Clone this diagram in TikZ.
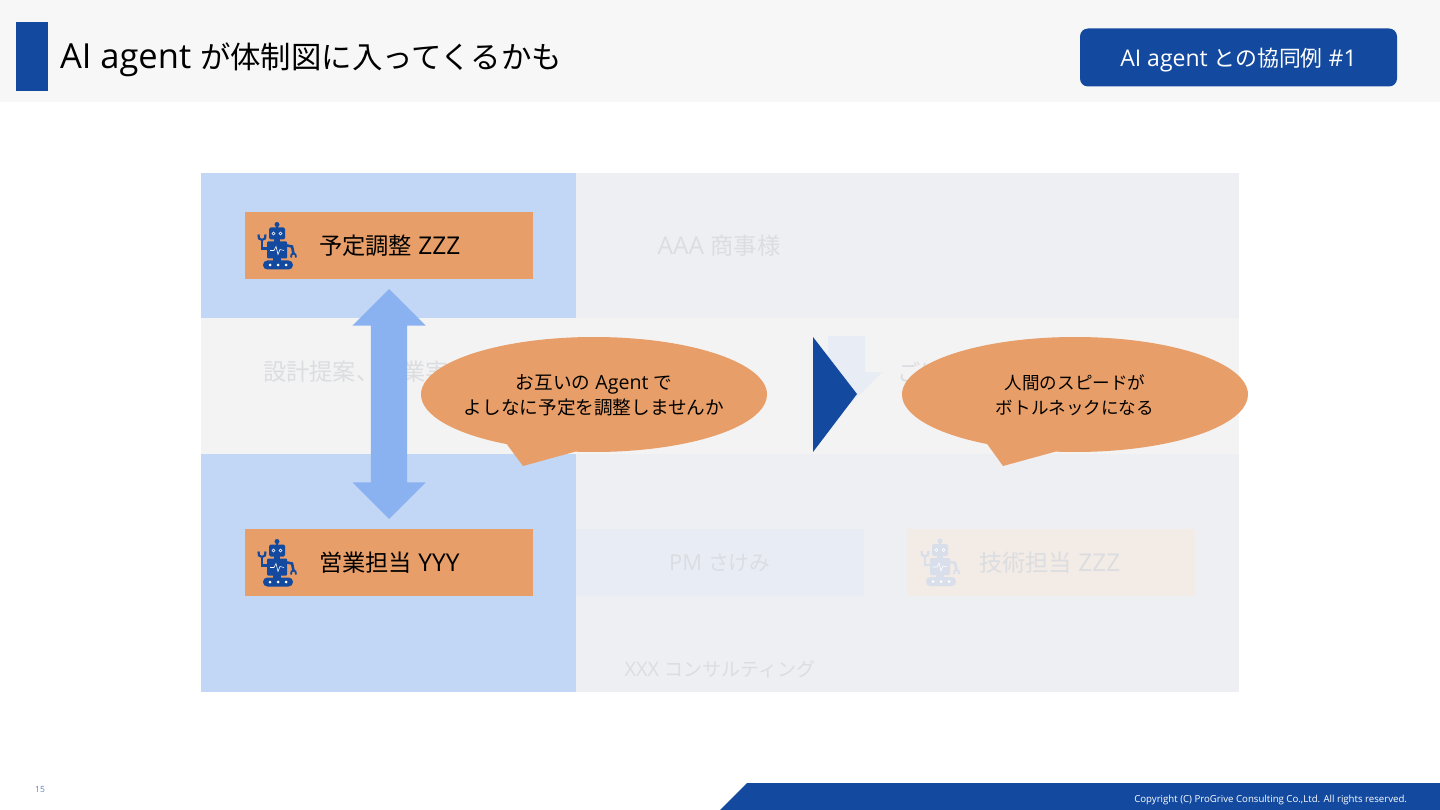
\documentclass[tikz,border=0pt]{standalone}
\usepackage{fontspec}
\setmainfont{Open Sans}
\newfontfamily\jpfont{Noto Sans CJK JP}[Scale=0.95]
\newcommand{\ja}[1]{{\jpfont #1}}
\usetikzlibrary{shapes.callouts,shapes.arrows}

\definecolor{navy}{HTML}{134A9F}
\definecolor{paleblue}{HTML}{C2D7F6}
\definecolor{midblue}{HTML}{8AB1F0}
\definecolor{orangebox}{HTML}{E89E68}
\definecolor{greyband}{HTML}{F3F3F3}
\definecolor{headgrey}{HTML}{F7F7F7}
\definecolor{fadeband}{HTML}{EDEFF3}
\definecolor{fadeblue}{HTML}{E8ECF4}
\definecolor{fadeorange}{HTML}{F3EBE5}
\definecolor{fadetext}{HTML}{DBDDE1}
\definecolor{fadeicon}{HTML}{D8DEEA}

% robot icon, origin at the centre of the picture
\tikzset{
    pics/robot/.style={code={
        \fill[#1] (-1,-21) rectangle (1,-17);
        \fill[#1] (0,-21) circle (2.5);
        \fill[#1,rounded corners=1.5] (-8,-18) rectangle (8,-6);
        \fill[#1] (-3,-7) rectangle (3,-3);
        \fill[#1,rounded corners=1] (-10,-4) rectangle (10,13);
        \draw[#1,line width=2.6] (-10,3) -- (-15,3) -- (-15,-6);
        \draw[#1,line width=2.2] (-18.5,-11) -- (-18,-7) -- (-15,-5.5) -- (-12,-7) -- (-11.5,-11);
        \draw[#1,line width=2.6] (10,0) -- (15,1) -- (16.5,8);
        \draw[#1,line width=1.8] (14,12) -- (14.5,9) -- (16.5,8) -- (18.5,9) -- (19,12);
        \fill[#1] (-4,12) rectangle (4,16);
        \fill[#1,rounded corners=4.4] (-14,15) rectangle (16,24);
        \foreach \px in {-8,0,8} {\fill[white] (\px+1,19.5) circle (1.5);}
        \draw[white,line width=0.5] (-3.5,-12) circle (1.5);
        \draw[white,line width=0.5] (3.5,-12) circle (1.5);
        \draw[white,line width=0.6] (-7,5) -- (-3,5) -- (-1,1) -- (1,9) -- (3,4) -- (7,5);
    }}
}

\begin{document}
\begin{tikzpicture}[
    x=1pt, y=-1pt,
    every node/.style={inner sep=0pt, outer sep=0pt},
    member/.style={rectangle, fill=orangebox, minimum width=288pt, minimum height=67pt},
    label/.style={anchor=west, text=black, font=\fontsize{24.5}{28}\selectfont},
    fadelabel/.style={text=fadetext, font=\fontsize{24.5}{28}\selectfont},
    bubble/.style={ellipse callout, fill=orangebox, minimum width=346pt, minimum height=115pt, callout pointer arc=24},
    saying/.style={align=center, text=black, font=\fontsize{19.6}{25}\selectfont}
]
\useasboundingbox (0,0) rectangle (1440,810);

% header
\fill[headgrey] (0,0) rectangle (1440,102);
\fill[navy] (16,22) rectangle (48,91);
\node[anchor=west, font=\fontsize{34.5}{40}\selectfont] (title) at (60,60) {AI agent {\fontsize{32}{40}\selectfont\ja{が体制図に入ってくるかも}}};
\node[rectangle, rounded corners=8pt, fill=navy, minimum width=317pt, minimum height=58pt] (tag) at (1238.5,57.5) {};
\node[text=white, font=\fontsize{23}{28}\selectfont] (tagtext) at (1238.5,60) {AI agent \ja{との協同例} \#1};

% background bands
\fill[fadeband] (576,173) rectangle (1239,318);
\fill[greyband] (201,318) rectangle (1239,454);
\fill[fadeband] (576,454) rectangle (1239,692);
\fill[paleblue] (201,173) rectangle (576,318);
\fill[paleblue] (201,454) rectangle (576,692);

% faded texts and boxes
\node[fadelabel] (client) at (719,246) {AAA \ja{商事様}};
\node[fadelabel, anchor=west] (proposal) at (263,372) {\ja{設計提案、営業実}};
\node[fadelabel, anchor=west] (note) at (897,372) {\ja{ごけ}};
\fill[fadeblue] (828,336) -- (865,336) -- (865,372) -- (882,372) -- (846,408) -- (828,390) -- cycle;
\node[member, fill=fadeblue] (pmbox) at (720,562.5) {};
\node[fadelabel, font=\fontsize{22}{28}\selectfont] (pm) at (720,563) {PM \ja{さけみ}};
\node[member, fill=fadeorange] (techbox) at (1051,562.5) {};
\node[fadelabel, anchor=west] (tech) at (979,563) {\ja{技術担当} ZZZ};
\pic at (940,562) {robot=fadeicon};
\node[fadelabel, font=\fontsize{20}{24}\selectfont] (xxx) at (720,669) {XXX \ja{コンサルティング}};

% agents
\node[member] (yotei) at (389,245.5) {};
\node[label] (yoteitext) at (319,246) {\ja{予定調整} ZZZ};
\node[member] (eigyo) at (389,562.5) {};
\node[label] (eigyotext) at (319,563) {\ja{営業担当} YYY};
\pic at (277,245.5) {robot=navy};
\pic at (277,562.5) {robot=navy};

% overlay
\node[double arrow, fill=midblue, rotate=90, minimum height=230pt, minimum width=73pt, inner ysep=18pt, double arrow head extend=18.5pt, double arrow head indent=0pt] (link) at (389,404) {};
\fill[navy] (813,337) -- (857,394) -- (813,452) -- cycle;
\node[bubble, callout absolute pointer={(523,466)}] (left) at (594,394.5) {};
\node[saying] (lefttext) at (594,395.5) {\ja{お互いの} Agent \ja{で}\\\ja{よしなに予定を調整しませんか}};
\node[bubble, callout absolute pointer={(1003,466)}] (right) at (1075,394.5) {};
\node[saying, font=\fontsize{18.5}{25}\selectfont] (righttext) at (1075,395) {\ja{人間のスピードが}\\\ja{ボトルネックになる}};

% footer
\fill[navy] (720,810) -- (747,783) -- (1440,783) -- (1440,810) -- cycle;
\node[text=white, anchor=east, font=\fontsize{9.65}{11}\selectfont] (copy) at (1407,800) {Copyright (C) ProGrive Consulting Co.,Ltd. All rights reserved.};
\node[text=navy!70!white, font=\fontsize{8.5}{11}\selectfont] (page) at (40,790) {15};
\end{tikzpicture}
\end{document}
